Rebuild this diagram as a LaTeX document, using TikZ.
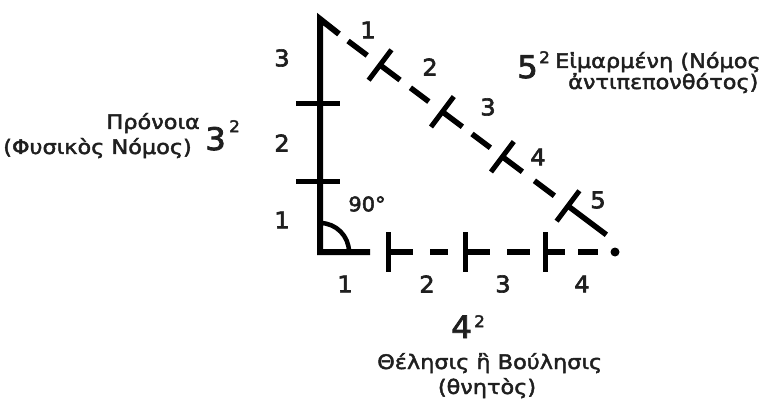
\documentclass[tikz,border=0pt]{standalone}
\usepackage{fontspec}
\setmainfont{DejaVu Sans}
\newfontfamily\grkfont[FakeStretch=1.12,FakeBold=2.2]{DejaVu Sans}
\newfontfamily\numfont[FakeStretch=1.05,FakeBold=2.6]{DejaVu Sans}
\usetikzlibrary{calc}
\begin{document}
\begin{tikzpicture}[x=1pt,y=-1pt,
  mainline/.style={line width=6pt,line join=miter},
  tickline/.style={line width=5pt},
  dashseg/.style={line width=5.5pt},
  num/.style={font=\numfont\fontsize{23}{23}\selectfont,inner sep=0pt,text=black!88},
  greek/.style={font=\grkfont\fontsize{20}{20}\selectfont,inner sep=0pt,text=black!88},
  big/.style={font=\numfont\fontsize{31}{31}\selectfont,inner sep=0pt,text=black!88},
  sup/.style={font=\numfont\fontsize{16}{16}\selectfont,inner sep=0pt,text=black!88}]
\useasboundingbox (0,0) rectangle (767,403);
\fill[white] (0,0) rectangle (767,403);
% corners
\coordinate (A) at (320,19);
\coordinate (C) at (320,252);
\coordinate (B) at (615,252);
% vertical leg with top hook and bottom corner
\draw[mainline] (339,34) -- (A) -- (C) -- (370,252);
\draw[tickline] (296,104) -- (340,104);
\draw[tickline] (296,182) -- (340,182);
% right angle arc
\draw[line width=4.5pt] (320,223) arc[start angle=270,end angle=360,radius=29];
% bottom leg
\draw[tickline] (388,232) -- (388,272);
\draw[tickline] (465,232) -- (465,272);
\draw[tickline] (545,232) -- (545,272);
\draw[dashseg] (388,252) -- (413,252);
\draw[dashseg] (430,252) -- (448,252);
\draw[dashseg] (465,252) -- (490,252);
\draw[dashseg] (507,252) -- (530,252);
\draw[dashseg] (545,252) -- (565,252);
\draw[dashseg] (578,252) -- (598,252);
\fill (B) circle[radius=4.5];
% hypotenuse
\begin{scope}[shift={(320,20)},rotate=-36.87]
  \draw[dashseg] (35,0) -- (59,0);
  \foreach \t in {75,153,228,310} {
    \draw[tickline] (\t,-19) -- (\t,19);
  }
  \draw[dashseg] (75,0) -- (100,0);
  \draw[dashseg] (113,0) -- (136,0);
  \draw[dashseg] (153,0) -- (178,0);
  \draw[dashseg] (190,0) -- (213,0);
  \draw[dashseg] (228,0) -- (253,0);
  \draw[dashseg] (268,0) -- (293,0);
  \draw[dashseg] (310,0) -- (358,0);
\end{scope}
% numbers
\node[num] (v3) at (282,58) {3};
\node[num] (v2) at (282,143) {2};
\node[num] (v1) at (282,220) {1};
\node[num] (h1) at (368,30) {1};
\node[num] (h2) at (430,67) {2};
\node[num] (h3) at (488,107) {3};
\node[num] (h4) at (538,157) {4};
\node[num] (h5) at (598,200) {5};
\node[num] (b1) at (345,284) {1};
\node[num] (b2) at (427,284) {2};
\node[num] (b3) at (503,284) {3};
\node[num] (b4) at (582,284) {4};
\node[num,font=\numfont\fontsize{20}{20}\selectfont] (ang) at (367,204) {90°};
% left label
\node[greek,anchor=base east] (pronoia) at (200,129) {Πρόνοια};
\node[greek,anchor=base east] (fysikos) at (192,154) {(Φυσικὸς Νόμος)};
\node[big,anchor=base west] (three) at (205,150) {3};
\node[sup,anchor=north west] (threesq) at (229,120) {2};
% right label
\node[big,anchor=base west] (five) at (517,78) {5};
\node[sup,anchor=north west] (fivesq) at (539,51) {2};
\node[greek,anchor=base west] (eimar) at (555,68) {Εἱμαρμένη (Νόμος};
\node[greek,anchor=base west] (anti) at (568,89) {ἀντιπεπονθότος)};
% bottom label
\node[big,anchor=base west] (four) at (451,338) {4};
\node[sup,anchor=north west] (foursq) at (474,315) {2};
\node[greek,anchor=base west] (thel) at (377,369) {Θέλησις ἢ Βούλησις};
\node[greek,anchor=base] (thn) at (487,394) {(θνητὸς)};
\end{tikzpicture}
\end{document}
